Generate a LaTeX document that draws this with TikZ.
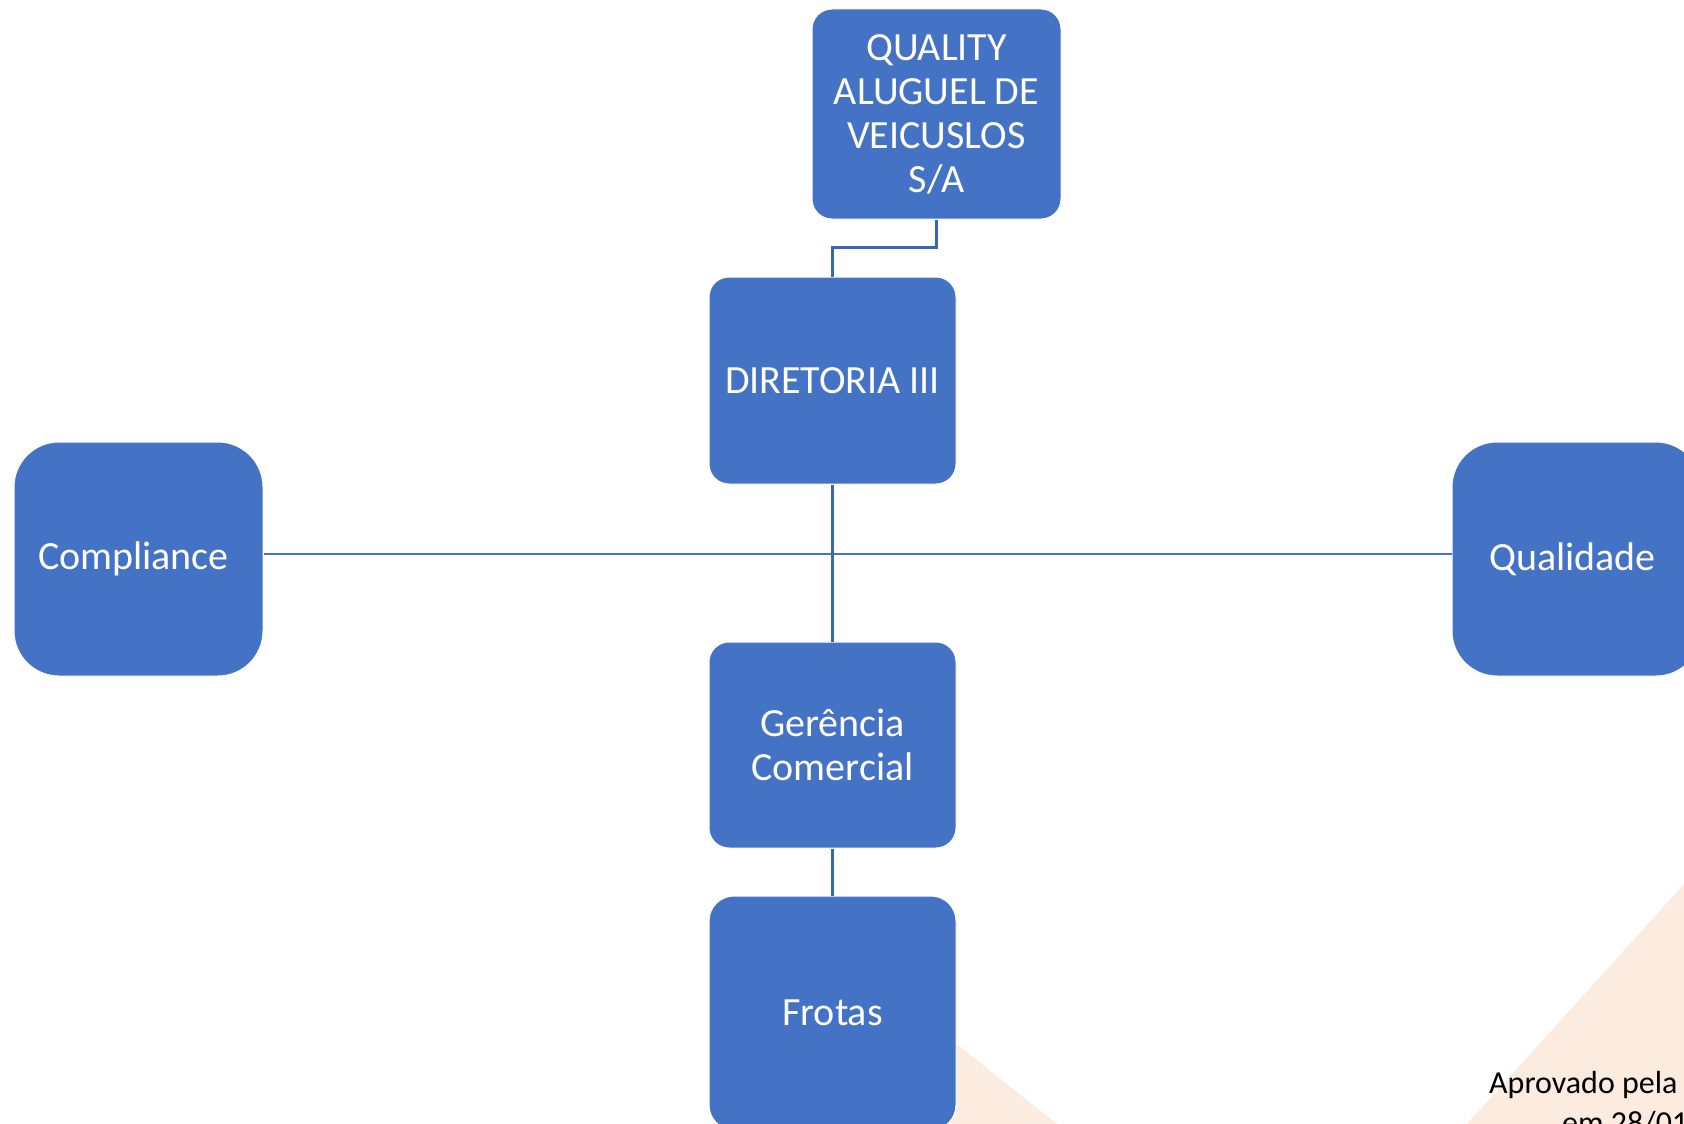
\documentclass[tikz,border=0pt]{standalone}
\usepackage{fontspec}
\setmainfont{Carlito}
\definecolor{boxblue}{HTML}{4472C4}
\definecolor{lineblue}{HTML}{3A66B0}
\definecolor{peach}{HTML}{FBECDF}
\begin{document}
\begin{tikzpicture}[x=1pt,y=-1pt,
  orgbox/.style={fill=boxblue, draw=white, line width=1pt, text=white, align=center,
    font=\fontsize{40}{44}\selectfont, inner sep=0pt},
  conn/.style={draw=lineblue, line width=3pt},
  thinconn/.style={draw=boxblue, line width=1.5pt}]
\useasboundingbox (0,0) rectangle (1684,1124);
\clip (0,0) rectangle (1684,1124);
% background triangles
\fill[peach] (1684,884) -- (1467,1124) -- (1684,1124) -- cycle;
\fill[peach] (900,999) -- (1057,1124) -- (900,1124) -- cycle;
% boxes
\node[orgbox, minimum width=249, minimum height=210, rounded corners=20] (top) at (936.5,114) {QUALITY\\ALUGUEL DE\\VEICUSLOS\\S/A};
\node[orgbox, minimum width=247, minimum height=207, rounded corners=20] (dir) at (832.5,380.5) {DIRETORIA III};
\node[orgbox, minimum width=249, minimum height=234, rounded corners=45] (comp) at (138.5,559) {Compliance\hspace*{10pt}};
\node[orgbox, minimum width=249, minimum height=234, rounded corners=45] (qual) at (1576.5,559) {Qualidade\hspace*{8pt}};
\node[orgbox, minimum width=247, minimum height=206, rounded corners=20] (ger) at (832.5,745) {Gerência\\Comercial};
\node[orgbox, minimum width=247, minimum height=234, rounded corners=25] (frot) at (832.5,1013) {Frotas};
% connectors
\draw[conn] (top.south) -- ++(0,28) -| (dir.north);
\draw[thinconn] ([yshift=5pt]comp.east) -- ([yshift=5pt]qual.west);
\draw[conn] (dir.south) -- (ger.north);
\draw[conn] (ger.south) -- (frot.north);
% note
\node[anchor=base west, inner sep=0pt, font=\fontsize{32}{38}\selectfont] (note1) at (1489,1093) {Aprovado pela};
\node[anchor=base west, inner sep=0pt, font=\fontsize{32}{38}\selectfont] (note2) at (1562,1133) {em 28/01};
\end{tikzpicture}
\end{document}
